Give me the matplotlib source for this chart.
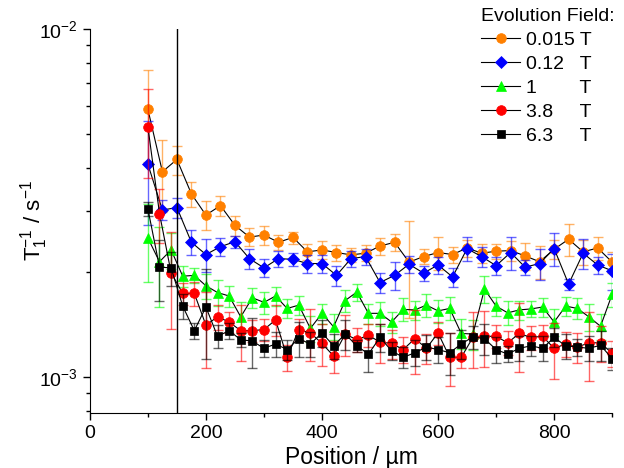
import numpy as np
import matplotlib
matplotlib.use("Agg")
import matplotlib.pyplot as plt

plt.rcParams['font.family'] = ['Liberation Sans', 'DejaVu Sans']
plt.rcParams['mathtext.fontset'] = 'custom'
plt.rcParams['mathtext.rm'] = 'Liberation Sans'
plt.rcParams['mathtext.it'] = 'Liberation Sans:italic'

# positions (um)
x_fine = np.arange(100, 901, 20)    # 3.8 T, 1 T, 6.3 T
x_coarse = np.arange(100, 901, 25)  # 0.015 T, 0.12 T

# relaxation rates in units of 1e-3 s^-1
r_0015 = [5.88, 3.89, 4.22, 3.36, 2.92, 3.11, 2.73, 2.525, 2.56, 2.44, 2.52,
          2.29, 2.32, 2.28, 2.245, 2.27, 2.38, 2.44, 2.14, 2.22, 2.28, 2.25,
          2.35, 2.27, 2.30, 2.31, 2.23, 2.145, 2.33, 2.49, 2.29, 2.35, 2.14]
e_0015 = [1.74, 0.91, 0.40, 0.27, 0.28, 0.20, 0.18, 0.15, 0.16, 0.12, 0.10,
          0.12, 0.14, 0.12, 0.10, 0.12, 0.13, 0.14, 0.66, 0.11, 0.25, 0.12,
          0.13, 0.14, 0.12, 0.15, 0.20, 0.23, 0.15, 0.26, 0.19, 0.18, 0.15]

r_012 = [4.09, 3.02, 3.07, 2.44, 2.25, 2.37, 2.45, 2.19, 2.06, 2.19, 2.18,
         2.12, 2.12, 1.96, 2.19, 2.22, 1.87, 1.96, 2.11, 1.99, 2.10, 1.94,
         2.34, 2.22, 2.09, 2.28, 2.07, 2.12, 2.34, 1.85, 2.27, 2.10, 2.02]
e_012 = [1.35, 0.20, 0.20, 0.20, 0.24, 0.14, 0.10, 0.14, 0.12, 0.12, 0.10,
         0.13, 0.13, 0.13, 0.12, 0.12, 0.12, 0.18, 0.12, 0.10, 0.12, 0.12,
         0.18, 0.15, 0.12, 0.25, 0.10, 0.22, 0.26, 0.07, 0.23, 0.12, 0.24]

r_1 = [2.51, 2.145, 2.32, 1.95, 1.96, 1.83, 1.75, 1.71, 1.49, 1.69, 1.64,
       1.71, 1.575, 1.61, 1.38, 1.525, 1.395, 1.66, 1.755, 1.525, 1.525,
       1.44, 1.565, 1.56, 1.61, 1.55, 1.575, 1.335, 1.33, 1.79, 1.60,
       1.53, 1.56, 1.57, 1.59, 1.44, 1.60, 1.575, 1.49, 1.40, 1.73]
e_1 = [0.63, 0.55, 0.27, 0.13, 0.10, 0.15, 0.15, 0.12, 0.15, 0.11, 0.12,
       0.11, 0.10, 0.10, 0.12, 0.10, 0.12, 0.12, 0.10, 0.10, 0.12,
       0.10, 0.12, 0.10, 0.12, 0.12, 0.12, 0.13, 0.13, 0.16, 0.10,
       0.12, 0.10, 0.08, 0.10, 0.13, 0.10, 0.11, 0.13, 0.12, 0.14]

r_38 = [5.24, 2.95, 1.995, 1.74, 1.74, 1.41, 1.49, 1.44, 1.36, 1.36, 1.37,
        1.46, 1.14, 1.37, 1.34, 1.25, 1.15, 1.33, 1.28, 1.32, 1.26,
        1.25, 1.20, 1.29, 1.21, 1.34, 1.14, 1.14, 1.30, 1.31, 1.31,
        1.255, 1.335, 1.30, 1.31, 1.21, 1.245, 1.22, 1.255, 1.255, 1.17]
e_38 = [1.50, 0.52, 0.62, 0.13, 0.14, 0.35, 0.12, 0.10, 0.25, 0.10, 0.10,
        0.15, 0.10, 0.10, 0.23, 0.17, 0.12, 0.18, 0.10, 0.10, 0.16,
        0.12, 0.10, 0.27, 0.12, 0.10, 0.20, 0.08, 0.24, 0.24, 0.10,
        0.10, 0.30, 0.10, 0.10, 0.22, 0.10, 0.12, 0.28, 0.15, 0.10]

r_63 = [3.045, 2.07, 2.06, 1.60, 1.36, 1.59, 1.31, 1.36, 1.28, 1.27, 1.21,
        1.245, 1.20, 1.29, 1.245, 1.34, 1.23, 1.33, 1.23, 1.165, 1.30,
        1.19, 1.14, 1.175, 1.22, 1.20, 1.175, 1.245, 1.305, 1.29, 1.20,
        1.165, 1.21, 1.23, 1.21, 1.30, 1.23, 1.22, 1.21, 1.235, 1.13]
e_63 = [0.15, 0.41, 0.23, 0.13, 0.07, 0.46, 0.10, 0.07, 0.06, 0.21, 0.07,
        0.10, 0.08, 0.15, 0.10, 0.12, 0.10, 0.13, 0.05, 0.13, 0.12,
        0.07, 0.08, 0.10, 0.10, 0.10, 0.16, 0.12, 0.10, 0.13, 0.10,
        0.06, 0.10, 0.08, 0.10, 0.08, 0.10, 0.07, 0.10, 0.12, 0.08]

series = [
    (x_coarse, r_0015, e_0015, '#FF8000', 'o', 7, '0.015 T'),
    (x_coarse, r_012, e_012, '#0000FF', 'D', 6, '0.12   T'),
    (x_fine, r_1, e_1, '#00FF00', '^', 7.5, '1        T'),
    (x_fine, r_38, e_38, '#FF0000', 'o', 7, '3.8     T'),
    (x_fine, r_63, e_63, '#000000', 's', 6, '6.3     T'),
]

fig, ax = plt.subplots(figsize=(6.24, 4.68), dpi=100)
fig.subplots_adjust(left=0.144, right=0.981, top=0.938, bottom=0.118)

handles = []
for i, (x, r, e, col, mk, ms, lab) in enumerate(series):
    y = np.array(r) * 1e-3
    err = np.array(e) * 1e-3
    ax.errorbar(x, y, yerr=err, fmt='none', ecolor=col, elinewidth=1,
                capsize=3.5, capthick=1, alpha=0.6, zorder=2 + i)
    h, = ax.plot(x, y, color='black', lw=0.8, marker=mk, ms=ms,
                 mfc=col, mec=col, mew=0.5, zorder=3 + i, label=lab)
    handles.append(h)

ax.axvline(150, color='black', lw=1, zorder=10)

ax.set_yscale('log')
ax.set_xlim(0, 900)
ax.set_ylim(7.9e-4, 1e-2)
ax.set_xticks([0, 200, 400, 600, 800])
ax.set_xticks([100, 300, 500, 700, 900], minor=True)

for s in ['top', 'right']:
    ax.spines[s].set_visible(False)
ax.tick_params(which='major', direction='out', length=5, width=1, labelsize=14)
ax.tick_params(which='minor', direction='out', length=3, width=1)

ax.set_xlabel('Position / µm', fontsize=16.5, labelpad=3)
ax.set_ylabel(r'T$_1^{-1}$ / s$^{-1}$', fontsize=16, labelpad=-8)

leg = ax.legend(handles=handles, title='Evolution Field:', loc='upper right',
                bbox_to_anchor=(1.02, 1.075), frameon=False, fontsize=14,
                title_fontsize=14, handlelength=2.0, handletextpad=0.3,
                labelspacing=0.33, borderaxespad=0.0, alignment='left')

plt.savefig('out.png', dpi=100)
